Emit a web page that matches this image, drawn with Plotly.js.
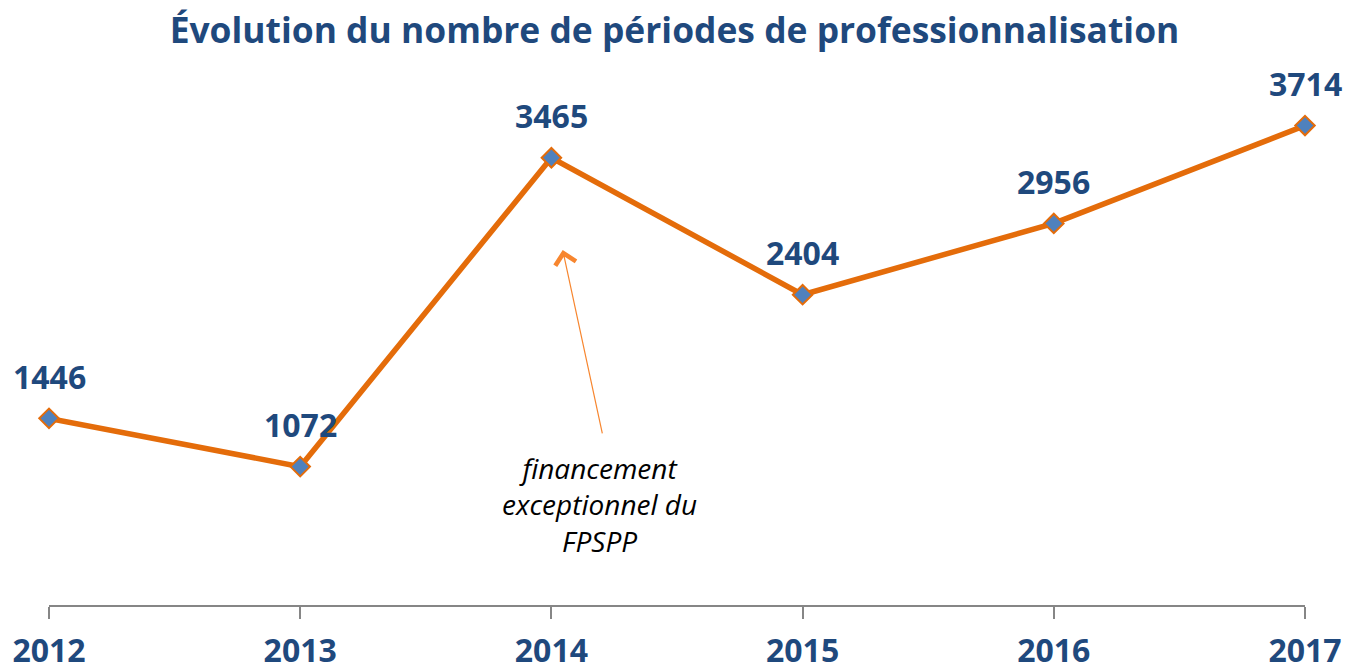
<!DOCTYPE html>
<html>
<head>
<meta charset="utf-8">
<script src="https://cdn.plot.ly/plotly-3.0.1.min.js"></script>
<style>html,body{margin:0;padding:0;background:#fff;}#chart{width:1349px;height:670px;}</style>
</head>
<body>
<div id="chart"></div>
<script>
const years = [2012, 2013, 2014, 2015, 2016, 2017];
const counts = [1446, 1072, 3465, 2404, 2956, 3714];
const tickLabels = ['2012', '2013', '2014', '2015', '2016', '2017'];
const noteText = 'financement<br>exceptionnel du<br>FPSPP';

const blue = '#1F497D';
const orange = '#E46C0A';

const trace = {
  x: years,
  y: counts,
  type: 'scatter',
  mode: 'lines+markers',
  line: {color: orange, width: 5.5},
  marker: {symbol: 'diamond', size: 15, color: '#4F81BD', line: {color: orange, width: 2}},
  cliponaxis: false,
  hoverinfo: 'skip'
};

const labelAnns = years.map((yr, i) => ({
  x: yr, y: counts[i], xref: 'x', yref: 'y',
  text: String(counts[i]), showarrow: false,
  xanchor: 'center', yanchor: 'middle', yshift: 42,
  font: {family: 'Open Sans', size: 32, color: blue, weight: 700}
}));

const anns = labelAnns.concat([
  {
    x: 2014.045, y: 2750, ax: 2014.204, ay: 1317, xref: 'x', yref: 'y', axref: 'x', ayref: 'y',
    showarrow: true, arrowhead: 4, arrowsize: 3.4, arrowwidth: 1.2, arrowcolor: '#F7862F',
    text: ''
  },
  {
    x: 2014.193, y: 782, xref: 'x', yref: 'y', showarrow: false,
    text: noteText, align: 'center', xanchor: 'center', yanchor: 'middle',
    font: {family: 'Open Sans', size: 28, color: '#000', style: 'italic'}
  }
]);

const layout = {
  width: 1349, height: 670,
  margin: {l: 49, r: 44, t: 60, b: 65},
  paper_bgcolor: '#fff', plot_bgcolor: '#fff',
  showlegend: false,
  title: {
    text: 'Évolution du nombre de périodes de professionnalisation',
    x: 0.5, xanchor: 'center', y: 1 - 31 / 670, yanchor: 'middle', yref: 'container',
    font: {family: 'Open Sans', size: 35.4, color: blue, weight: 700}
  },
  xaxis: {
    range: [2012, 2017],
    tickvals: years, ticktext: tickLabels,
    showgrid: false, zeroline: false,
    showline: true, linecolor: '#868686', linewidth: 2,
    ticks: 'outside', ticklen: 12, tickwidth: 2, tickcolor: '#868686',
    ticklabelstandoff: 5,
    tickfont: {family: 'Open Sans', size: 32, color: blue, weight: 700},
    fixedrange: true
  },
  yaxis: {
    range: [0, 4222], visible: false, showgrid: false, zeroline: false, fixedrange: true
  },
  annotations: anns
};

Plotly.newPlot('chart', [trace], layout, {displayModeBar: false, staticPlot: true});
</script>
</body>
</html>
